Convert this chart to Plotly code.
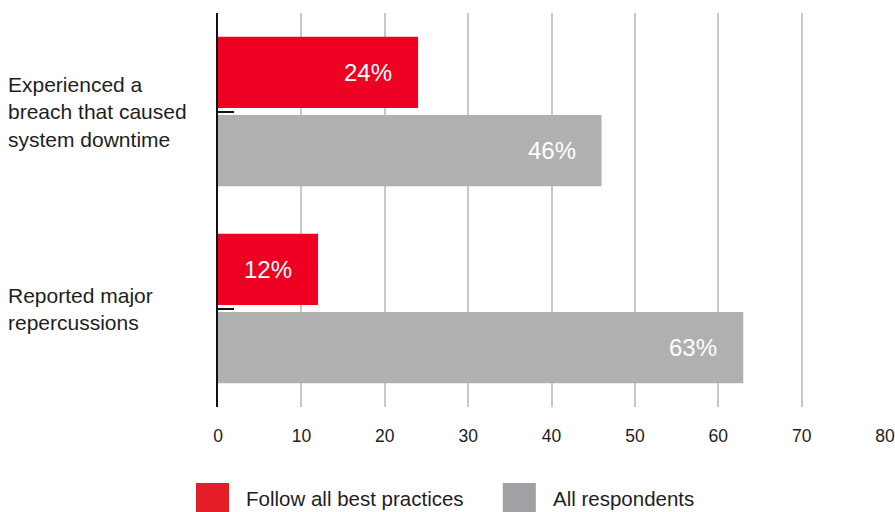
import plotly.graph_objects as go

# Survey results (percent of respondents)
categories = ["Experienced a<br>breach that caused<br>system downtime",
              "Reported major<br>repercussions"]
best_practices = [24, 12]
all_respondents = [46, 63]
series_names = ["Follow all best practices", "All respondents"]
x_ticks = [0, 10, 20, 30, 40, 50, 60, 70, 80]

BAR_RED = "#EE0022"
BAR_GRAY = "#B0B0B0"
KEY_RED = "#E31E26"
KEY_GRAY = "#A0A1A5"
TEXT = "#1E1E1E"
FONT = "Liberation Sans, Arial, sans-serif"

fig = go.Figure()
fig.add_trace(go.Bar(y=categories, x=best_practices, orientation="h",
                     name=series_names[0], marker=dict(color=BAR_RED, line_width=0)))
fig.add_trace(go.Bar(y=categories, x=all_respondents, orientation="h",
                     name=series_names[1], marker=dict(color=BAR_GRAY, line_width=0)))

annotations = []
# value labels, inset from the end of each bar
for cat, v in zip(categories, best_practices):
    annotations.append(dict(x=v, y=cat, xref="x", yref="y", text=f"{v}%",
                            showarrow=False, xanchor="right", xshift=-24, yshift=39,
                            font=dict(size=24, color="white", family=FONT)))
for cat, v in zip(categories, all_respondents):
    annotations.append(dict(x=v, y=cat, xref="x", yref="y", text=f"{v}%",
                            showarrow=False, xanchor="right", xshift=-24, yshift=-39,
                            font=dict(size=24, color="white", family=FONT)))
# left-aligned category labels
for cat in categories:
    annotations.append(dict(x=-0.3175, y=cat, xref="paper", yref="y", text=cat,
                            showarrow=False, xanchor="left", align="left",
                            font=dict(size=21, color=TEXT, family=FONT)))

# custom legend with large swatches
shapes = []
key_items = [(series_names[0], KEY_RED, -0.033), (series_names[1], KEY_GRAY, 0.427)]
for name, color, x0 in key_items:
    shapes.append(dict(type="rect", xref="paper", yref="paper",
                       x0=x0, x1=x0 + 0.0495, y0=-0.193, y1=-0.27,
                       fillcolor=color, line_width=0))
    annotations.append(dict(x=x0 + 0.072, y=-0.231, xref="paper", yref="paper",
                            text=name, showarrow=False, xanchor="left", yanchor="middle",
                            font=dict(size=20.5, color=TEXT, family=FONT)))

fig.update_layout(
    width=895, height=512,
    margin=dict(l=218, r=10, t=13, b=105, autoexpand=False),
    paper_bgcolor="white", plot_bgcolor="white",
    barmode="group", bargap=0.207, bargroupgap=0.089,
    showlegend=False,
    font=dict(family=FONT, color=TEXT),
    annotations=annotations, shapes=shapes,
    xaxis=dict(range=[0, 80], tickvals=x_ticks, showgrid=True, automargin=False,
               gridcolor="#C8C8C8", gridwidth=1.5, zeroline=False, showline=False,
               ticks="outside", ticklen=13, tickcolor="rgba(0,0,0,0)",
               tickfont=dict(size=17.5, color=TEXT, family=FONT)),
    yaxis=dict(range=[1.5, -0.5], showgrid=False, zeroline=False, automargin=False,
               showline=True, linecolor="#111111", linewidth=1.5,
               ticks="inside", ticklen=16, tickcolor="#111111", tickwidth=1.5,
               showticklabels=False),
)

fig.write_html("out.html")
